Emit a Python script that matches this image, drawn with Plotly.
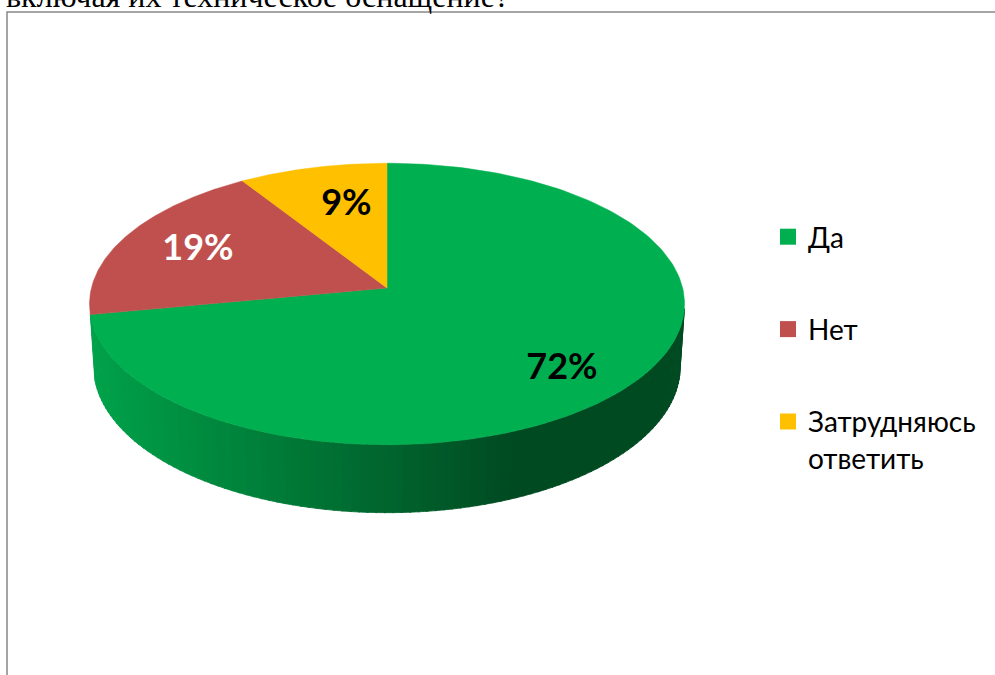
import numpy as np
import plotly.graph_objects as go

# ---- data ----
categories = ["Да", "Нет", "Затрудняюсь<br>ответить"]
values = [72, 19, 9]
slice_colors = ["#00B050", "#C0504D", "#FFC000"]
label_colors = ["#000000", "#FFFFFF", "#000000"]
title_text = "включая их техническое оснащение?"

# ---- 3D projection settings (layout) ----
CX, CY = 387.0, 288.0          # screen position of pie centre
FOCAL = 2300.0
DIST = 7.78
TILT = np.arcsin(0.47)
THICK = 0.2435
COS_T, SIN_T = np.cos(TILT), np.sin(TILT)
LABEL_R = 0.7
LABEL_SHIFT = [(7, 17), (-5, 0), (13, 5)]
MIN_SIDE_PX = 3.0


def proj(theta, r=1.0, yw=0.0):
    x = r * np.sin(theta)
    z = r * np.cos(theta)
    yc = yw * COS_T + z * SIN_T
    depth = DIST + z * COS_T - yw * SIN_T
    return CX + FOCAL * x / depth, CY - FOCAL * yc / depth


def hex_to_rgb(h):
    h = h.lstrip("#")
    return [int(h[i:i + 2], 16) for i in (0, 2, 4)]


def shade(hexcol, k):
    r, g, b = hex_to_rgb(hexcol)
    return "rgb(%d,%d,%d)" % (round(r * k), round(g * k), round(b * k))


total = float(sum(values))
bounds = np.concatenate([[0.0], np.cumsum(values) / total * 2 * np.pi])

fig = go.Figure()

# ---- visible side wall ----
cos_lim = -1.0 / (DIST * COS_T)
vis_a = np.arccos(cos_lim)
vis_b = 2 * np.pi - vis_a
x_left = proj(vis_b)[0]
x_dark = 515.0
K_LIGHT, K_DARK = 0.92, 0.42

for i in range(len(values)):
    a = max(bounds[i], vis_a)
    b = min(bounds[i + 1], vis_b)
    if b <= a:
        continue
    if abs(proj(b)[0] - proj(a)[0]) < MIN_SIDE_PX:
        continue
    n = max(1, int(np.ceil((b - a) / np.radians(1.5))))
    edges = np.linspace(a, b, n + 1)
    for j in range(n):
        t0, t1 = edges[j], min(edges[j + 1] + 0.004, b)
        th = np.linspace(t0, t1, 4)
        tx, ty = proj(th)
        bx, by = proj(th[::-1], 1.0, -THICK)
        xs = np.concatenate([tx, bx, tx[:1]])
        ys = np.concatenate([ty, by, ty[:1]])
        xm = proj((t0 + t1) / 2)[0]
        t = np.clip((xm - x_left) / (x_dark - x_left), 0, 1)
        col = shade(slice_colors[i], K_LIGHT - (K_LIGHT - K_DARK) * t)
        fig.add_trace(go.Scatter(x=xs, y=ys, mode="lines", fill="toself",
                                 fillcolor=col, line=dict(color=col, width=0.8),
                                 hoverinfo="skip", showlegend=False))

# ---- top faces ----
for i in range(len(values)):
    th = np.linspace(bounds[i], bounds[i + 1], 200)
    ax, ay = proj(th)
    xs = np.concatenate([[CX], ax, [CX]])
    ys = np.concatenate([[CY], ay, [CY]])
    fig.add_trace(go.Scatter(x=xs, y=ys, mode="lines", fill="toself",
                             fillcolor=slice_colors[i],
                             line=dict(color=slice_colors[i], width=0.5),
                             hoverinfo="skip", showlegend=False,
                             legendgroup=categories[i]))

# ---- percentage labels ----
for i in range(len(values)):
    mid = (bounds[i] + bounds[i + 1]) / 2
    lx, ly = proj(mid, LABEL_R)
    fig.add_trace(go.Scatter(x=[lx + LABEL_SHIFT[i][0]], y=[ly + LABEL_SHIFT[i][1]],
                             mode="text", text=["%d%%" % round(values[i] / total * 100)],
                             textfont=dict(family="Lato, Carlito, sans-serif", size=36,
                                           color=label_colors[i], weight="bold"),
                             textposition="middle center",
                             hoverinfo="skip", showlegend=False))

# ---- legend entries ----
for i in range(len(values)):
    fig.add_trace(go.Scatter(x=[None], y=[None], mode="markers",
                             marker=dict(symbol="square", size=16, color=slice_colors[i]),
                             name=categories[i], legendgroup=categories[i]))

fig.add_shape(type="rect", xref="x", yref="y", x0=7, y0=12, x1=1010, y1=700,
              line=dict(color="#888888", width=1.5), fillcolor="rgba(0,0,0,0)",
              layer="below")

fig.add_annotation(text=title_text, xref="paper", yref="paper",
                   x=4 / 995, y=1 + 3.6 / 675, xanchor="left", yanchor="middle",
                   showarrow=False,
                   font=dict(family="Liberation Serif, Times New Roman, serif",
                             size=32, color="#000000"))

fig.update_layout(
    width=995, height=675,
    margin=dict(l=0, r=0, t=0, b=0),
    paper_bgcolor="#FFFFFF", plot_bgcolor="#FFFFFF",
    xaxis=dict(range=[0, 995], visible=False, fixedrange=True),
    yaxis=dict(range=[675, 0], visible=False, fixedrange=True),
    showlegend=True,
    legend=dict(x=768 / 995, y=1 - 212 / 675, xanchor="left", yanchor="top",
                font=dict(family="Lato, Carlito, sans-serif", size=28, color="#000000"),
                tracegroupgap=53, valign="top", bgcolor="rgba(0,0,0,0)"),
)

fig.write_html("out.html")
